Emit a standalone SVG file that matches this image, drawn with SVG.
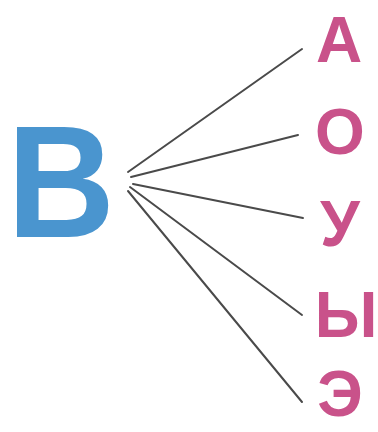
<svg xmlns="http://www.w3.org/2000/svg" width="378" height="432" viewBox="0 0 378 432">
<style>
.v{font-family:"Liberation Sans",Arial,sans-serif;font-weight:bold;font-size:64px;fill:#c9528a;text-anchor:middle}
.c line{stroke:#4a4a4a;stroke-width:2;stroke-linecap:round}
</style>
<rect width="378" height="432" fill="#ffffff"/>
<g id="node-B"><text transform="translate(61 237) scale(0.94 1)" x="0" y="0" font-family="Liberation Sans,Arial,sans-serif" font-weight="bold" font-size="159" fill="#4a95cf" text-anchor="middle">В</text></g>
<g class="c" id="connectors">
<line x1="128" y1="172" x2="302" y2="49"/>
<line x1="131" y1="177" x2="298" y2="135"/>
<line x1="133" y1="184" x2="303" y2="218"/>
<line x1="130" y1="187" x2="302" y2="315"/>
<line x1="128" y1="191" x2="302" y2="402"/>
</g>
<g id="node-A"><text class="v" x="339" y="62">А</text></g>
<g id="node-O"><text class="v" x="340" y="154">О</text></g>
<g id="node-U"><text class="v" x="340" y="246">У</text></g>
<g id="node-Y"><text class="v" x="346" y="337">Ы</text></g>
<g id="node-E"><text class="v" x="340" y="416">Э</text></g>
</svg>
